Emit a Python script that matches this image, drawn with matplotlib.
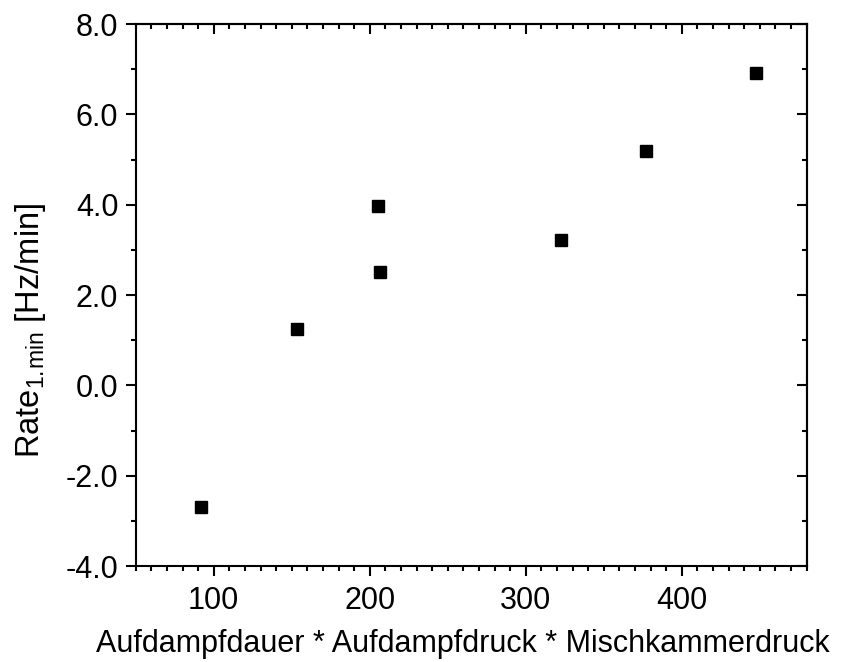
import matplotlib
matplotlib.use("Agg")
import matplotlib.pyplot as plt
from matplotlib.ticker import MultipleLocator, FormatStrFormatter

plt.rcParams['font.family'] = ['Liberation Sans', 'DejaVu Sans']

# Werte
produkt = [91.7, 153.1, 205.1, 206.8, 322.6, 377.3, 447.5]
rate = [-2.70, 1.24, 3.97, 2.52, 3.21, 5.19, 6.92]

fig = plt.figure(figsize=(8.42, 6.62), dpi=100)
ax = fig.add_axes([0.1612, 0.145, 0.7968, 0.8187])

ax.plot(produkt, rate, linestyle='none', marker='s', markersize=8,
        color='black')

ax.set_xlim(50, 480)
ax.set_ylim(-4, 8)
ax.xaxis.set_major_locator(MultipleLocator(100))
ax.xaxis.set_minor_locator(MultipleLocator(10))
ax.yaxis.set_major_locator(MultipleLocator(2))
ax.yaxis.set_minor_locator(MultipleLocator(1))
ax.yaxis.set_major_formatter(FormatStrFormatter('%.1f'))

for s in ax.spines.values():
    s.set_linewidth(1.5)
ax.tick_params(which='both', direction='out', width=1.5, labelsize=22)
ax.tick_params(which='major', length=7.5)
ax.tick_params(which='minor', length=3.5)
ax.tick_params(axis='x', pad=7)
ax.tick_params(axis='y', pad=5)

# oben und rechts: Ticks nach innen, ohne Beschriftung
top = ax.secondary_xaxis('top')
top.xaxis.set_major_locator(MultipleLocator(100))
top.xaxis.set_minor_locator(MultipleLocator(10))
top.tick_params(which='both', direction='in', width=1.5, labeltop=False)
top.tick_params(which='major', length=7.5)
top.tick_params(which='minor', length=3.5)
top.spines['top'].set_linewidth(1.5)

right = ax.secondary_yaxis('right')
right.yaxis.set_major_locator(MultipleLocator(2))
right.yaxis.set_minor_locator(MultipleLocator(1))
right.tick_params(which='both', direction='in', width=1.5, labelright=False)
right.tick_params(which='major', length=7.5)
right.tick_params(which='minor', length=3.5)
right.spines['right'].set_linewidth(1.5)

ax.set_xlabel('Aufdampfdauer * Aufdampfdruck * Mischkammerdruck',
              fontsize=22)
ax.xaxis.set_label_coords(0.488, -0.117)
ax.set_ylabel(r'Rate$_{\mathregular{1.\!min}}$ [Hz/min]', fontsize=23.5)
ax.yaxis.set_label_coords(-0.131, 0.435)

fig.savefig('out.png', dpi=100)
